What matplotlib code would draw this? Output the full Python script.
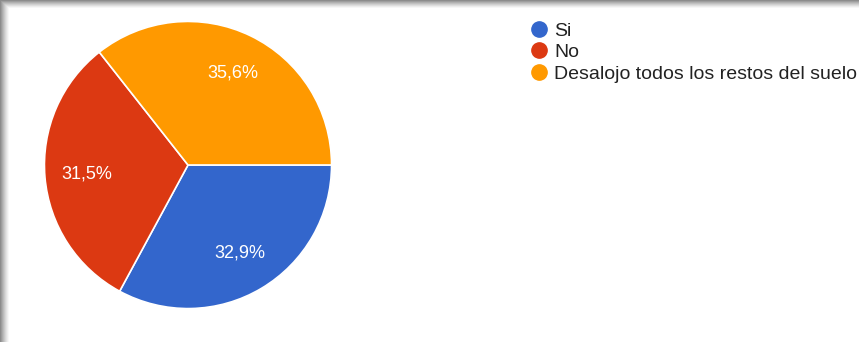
import numpy as np
import matplotlib
matplotlib.use("Agg")
import matplotlib.pyplot as plt
from matplotlib.lines import Line2D

categories = ["Si", "No", "Desalojo todos los restos del suelo"]
values = [32.9, 31.5, 35.6]
colors = ["#3366CC", "#DC3912", "#FF9900"]

W, H = 859, 342
fig = plt.figure(figsize=(W / 100, H / 100), dpi=100)
fig.patch.set_facecolor("white")

# soft drop shadow along the top and left edges of the card
bg = fig.add_axes([0, 0, 1, 1])
bg.set_axis_off()
img = np.ones((H, W, 3))
yy = np.arange(H)[:, None]
xx = np.arange(W)[None, :]
top = np.clip(1 - yy / 8.0, 0, 1) ** 1.3
left = np.clip(1 - xx / 9.0, 0, 1) ** 1.3
shade = np.maximum(top, left)
img = img * (1 - 0.45 * shade[..., None])
bg.imshow(img, extent=[0, W, H, 0], aspect="auto", interpolation="bilinear")
bg.set_xlim(0, W)
bg.set_ylim(H, 0)

# pie
cx, cy, r = 188, 165, 145
ax = fig.add_axes([(cx - r) / W, (H - cy - r) / H, 2 * r / W, 2 * r / H])
ax.set_axis_off()
wedges, texts, autotexts = ax.pie(
    values,
    colors=colors,
    startangle=0,
    counterclock=False,
    radius=1,
    autopct=lambda p: f"{p:.1f}%".replace(".", ","),
    pctdistance=0.71,
    wedgeprops=dict(edgecolor="white", linewidth=1.2),
    textprops=dict(color="white", fontsize=13, family="Liberation Sans"),
)
ax.set_xlim(-1.01, 1.01)
ax.set_ylim(-1.01, 1.01)
ax.set_aspect("equal")

handles = [
    Line2D([0], [0], marker="o", linestyle="none", markersize=11,
           markerfacecolor=c, markeredgecolor=c)
    for c in colors
]
fig.legend(
    handles, categories,
    loc="upper left",
    bbox_to_anchor=(531 / W, 1 - 22 / H),
    frameon=False,
    handletextpad=0.42,
    handlelength=0.78,
    labelspacing=0.2,
    borderaxespad=0,
    borderpad=0,
    prop=dict(family="Liberation Sans", size=14),
    labelcolor="#222222",
)

fig.savefig("out.png", dpi=100)
